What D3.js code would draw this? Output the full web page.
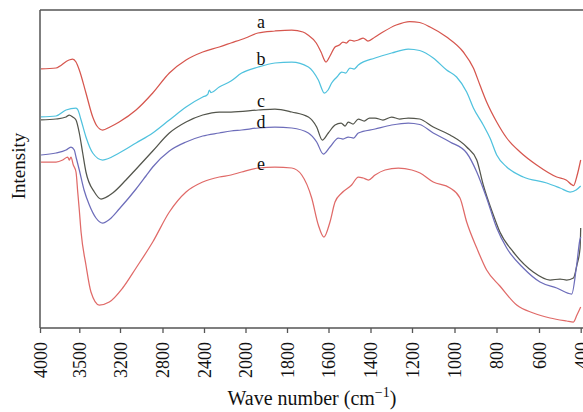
<!DOCTYPE html>
<html>
<head>
<meta charset="utf-8">
<script src="https://cdn.jsdelivr.net/npm/d3@7"></script>
<style>
  html, body { margin: 0; padding: 0; background: #fff; }
  svg { display: block; }
  text { font-family: "Liberation Serif", "Times New Roman", serif; fill: #111; }
</style>
</head>
<body>
<svg id="chart" width="583" height="412"></svg>
<script>
// FTIR spectra of five samples, wavenumber (cm^-1) vs. intensity (a.u.)
const tickValues = [4000, 3500, 3200, 2800, 2400, 2000, 1800, 1600, 1400, 1200, 1000, 800, 600, 400];
const seriesNames = ["a", "b", "c", "d", "e"];

const spectrumA = [
  [3987,259],[3796,260],[3631,268],[3584,269],[3542,266],[3500,258],[3451,235],[3401,211],
  [3370,202],[3328,198],[3274,201],[3206,206],[3049,218],[2892,235],[2734,255],[2573,268],
  [2412,276],[2253,281],[2140,285],[2000,290],[1940,295],[1858,297],[1777,298],[1723,296],
  [1699,293],[1659,285],[1636,276],[1612,266],[1593,272],[1569,281],[1548,283],[1531,286],
  [1515,285],[1498,288],[1478,287],[1458,288],[1435,290],[1412,287],[1378,291],[1340,296],
  [1276,303],[1211,306.5],[1164,305.5],[1115,301],[1037,291],[958,276],[910,260],[879,243],
  [847,226],[799,206],[752,190],[689,176],[611,163],[515,151],[470,148],[434,142.5],[418,152],
  [400,168]
];
const spectrumB = [
  [3987,211],[3796,212],[3669,218],[3542,220],[3517,218],[3487,208],[3451,191],[3401,175],
  [3328,168],[3206,175],[3049,185],[2892,195],[2734,208],[2573,221],[2412,231],[2371,233],
  [2362,234],[2349,238],[2333,235.5],[2253,241],[2140,247],[2037,255],[1938,261],[1858,265],
  [1777,266],[1697,261],[1649,248],[1620,235],[1602,238],[1585,245],[1560,251],[1537,256],
  [1518,255],[1498,260],[1478,259],[1458,263],[1378,270],[1298,275],[1218,279],[1164,277.5],
  [1100,270],[1037,258],[990,251],[942,236],[910,220],[863,203],[831,190],[799,173],[752,161],
  [674,151],[563,145],[499,140],[451,136],[422,138],[400,142]
];
const spectrumC = [
  [3987,208],[3796,209],[3669,211],[3627,213],[3584,211],[3542,208],[3500,195],[3475,175],
  [3451,156],[3389,136],[3340,129],[3254,135],[3144,148],[3065,157],[2892,177],[2734,195],
  [2573,206],[2412,213],[2253,216],[2140,216],[1938,218],[1858,219],[1777,216],[1697,211],
  [1657,201],[1630,188],[1601,195],[1569,203],[1540,205],[1521,202],[1506,206],[1483,204],
  [1458,209],[1430,207],[1405,210],[1378,210],[1340,208],[1298,211],[1260,209],[1218,210],
  [1164,209],[1100,201],[1021,193],[942,181],[894,168],[863,143],[815,113],[784,96],[721,76],
  [627,56],[547,48],[499,49],[467,48],[435,50],[418,63],[403,80],[400,100]
];
const spectrumD = [
  [3987,173],[3796,175],[3669,178],[3606,181],[3564,178],[3542,171],[3500,158],[3465,138],
  [3426,123],[3377,110],[3328,105],[3274,109],[3206,119],[3049,139],[2956,152],[2892,161],
  [2734,177],[2573,186],[2412,192],[2253,195],[2140,197],[2037,198],[1938,200],[1858,201],
  [1777,200],[1697,195],[1657,186],[1625,174],[1593,181],[1553,190],[1531,189],[1506,191],
  [1480,190],[1458,195],[1378,199],[1298,203],[1218,205],[1164,203.5],[1100,195],[1021,186],
  [942,175],[894,156],[847,130],[799,100],[752,80],[674,60],[595,46],[515,40],[443,34],
  [420,62],[404,88],[400,91]
];
const spectrumE = [
  [3987,166],[3796,166],[3711,168],[3648,171],[3627,168],[3606,171],[3576,163],[3542,156],
  [3520,136],[3500,118],[3487,96],[3451,63],[3414,36],[3353,23],[3279,26],[3175,40],
  [3049,60],[2892,86],[2734,116],[2573,136],[2412,146],[2253,151],[2140,153],[2037,156],
  [1938,160],[1858,161],[1777,160],[1729,153],[1681,130],[1649,103],[1622,91],[1593,106],
  [1569,126],[1537,135],[1490,143],[1458,151],[1435,150],[1410,148],[1378,153],[1330,158],
  [1266,160],[1201,158],[1162,155],[1100,146],[1021,140],[974,130],[942,106],[894,80],
  [847,58],[784,42],[705,23],[627,15],[547,10],[467,7],[435,6],[418,13],[400,21]
];

const seriesData = [spectrumA, spectrumB, spectrumC, spectrumD, spectrumE];
const seriesColors = ["#d6564e", "#50c2de", "#53554c", "#6d6dba", "#e06a68"];

// Layout
const W = 583, H = 412;
const plotLeft = 40, plotTop = 10, plotBottom = 328;
// pixel positions of the (unevenly valued) wavenumber ticks along the axis
const tickPx = [40, 79.3, 120, 162.5, 204, 245.5, 287, 328.5, 370.5, 412, 454.5, 496.5, 539, 580.7];

const svg = d3.select("#chart");

const x = d3.scaleLinear().domain(tickValues).range(tickPx);
const y = d3.scaleLinear().domain([0, 318]).range([plotBottom, plotTop]);

svg.append("defs").append("clipPath").attr("id", "plotClip")
  .append("rect").attr("x", plotLeft).attr("y", plotTop - 2)
  .attr("width", W - plotLeft).attr("height", plotBottom - plotTop + 2);

// Spectra
const line = d3.line()
  .x(d => x(d[0]))
  .y(d => y(d[1]))
  .curve(d3.curveMonotoneX);

svg.append("g").attr("clip-path", "url(#plotClip)")
  .selectAll("path")
  .data(seriesData)
  .join("path")
  .attr("d", line)
  .attr("fill", "none")
  .attr("stroke", (d, i) => seriesColors[i])
  .attr("stroke-width", 1.25)
  .attr("stroke-linejoin", "round");

// Frame: left axis, top border, bottom axis
const axisColor = "#555";
svg.append("line").attr("x1", plotLeft).attr("x2", plotLeft).attr("y1", plotTop).attr("y2", plotBottom)
  .attr("stroke", axisColor).attr("stroke-width", 1.5);
svg.append("line").attr("x1", plotLeft).attr("x2", W + 5).attr("y1", plotTop).attr("y2", plotTop)
  .attr("stroke", axisColor).attr("stroke-width", 1.5);

const xAxis = d3.axisBottom(x)
  .tickValues(tickValues)
  .tickSize(5)
  .tickSizeOuter(0)
  .tickFormat(d3.format("d"));

const gx = svg.append("g").attr("transform", `translate(0,${plotBottom})`).call(xAxis);
gx.select(".domain").remove();
gx.append("line").attr("x1", plotLeft).attr("x2", W + 5).attr("y1", 0).attr("y2", 0)
  .attr("stroke", axisColor).attr("stroke-width", 1.5);
gx.selectAll(".tick line").attr("stroke", axisColor).attr("stroke-width", 1.3);
gx.selectAll(".tick text")
  .attr("transform", "rotate(-90)")
  .attr("x", -14)
  .attr("y", 0)
  .attr("dy", "0.35em")
  .attr("text-anchor", "end")
  .style("font-family", "'Liberation Serif', serif")
  .style("font-size", "18px")
  .attr("fill", "#222");

// Axis titles
const title = svg.append("text")
  .attr("x", 312)
  .attr("y", 405)
  .attr("text-anchor", "middle")
  .style("font-size", "20px");
title.append("tspan").text("Wave number (cm");
title.append("tspan").text("\u22121").attr("dy", -8).style("font-size", "14px");
title.append("tspan").text(")").attr("dy", 8);

svg.append("text")
  .attr("transform", `translate(25,166) rotate(-90)`)
  .attr("text-anchor", "middle")
  .style("font-size", "19px")
  .text("Intensity");

// Series labels, placed on each spectrum near 1925 cm^-1
const labelWave = 1925;
const labelLift = [4.5, 1.5, 3, 0, -2];
svg.append("g").selectAll("text")
  .data(seriesNames)
  .join("text")
  .attr("x", x(labelWave))
  .attr("y", (d, i) => {
    const pts = seriesData[i];
    const v = d3.scaleLinear().domain(pts.map(p => p[0])).range(pts.map(p => p[1]))(labelWave);
    return y(v + labelLift[i]);
  })
  .attr("text-anchor", "middle")
  .style("font-size", "18px")
  .text(d => d);
</script>
</body>
</html>
